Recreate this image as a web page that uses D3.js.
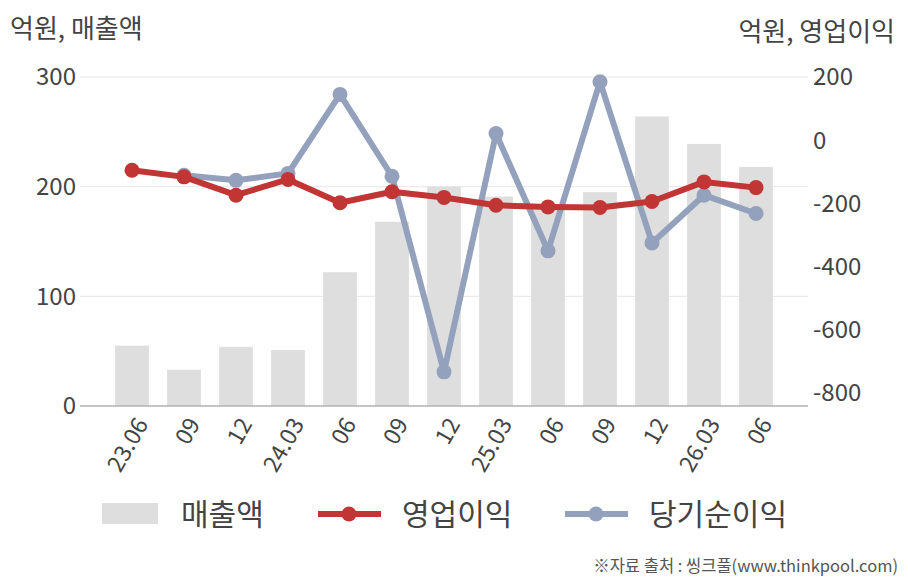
<!DOCTYPE html>
<html>
<head>
<meta charset="utf-8">
<script src="https://cdn.jsdelivr.net/npm/d3@7"></script>
<style>
  body { margin: 0; background: #fff; }
  text { font-family: "Noto Sans CJK KR", "Noto Sans", sans-serif; }
</style>
</head>
<body>
<svg width="908" height="580"></svg>
<script>
// 분기 라벨
const quarters = ["23.06", "09", "12", "24.03", "06", "09", "12", "25.03", "06", "09", "12", "26.03", "06"];
// 매출액 (억원, 왼쪽 축)
const sales = [55, 33, 54, 51, 122, 168, 200, 191, 184, 195, 264, 239, 218];
// 영업이익 (억원, 오른쪽 축)
const opProfit = [-95, -116, -174, -124, -198, -163, -181, -206, -211, -213, -194, -132, -150];
// 당기순이익 (억원, 오른쪽 축) - 첫 분기는 없음
const netProfit = [null, -111, -127, -105, 145, -114, -733, 21, -350, 185, -325, -174, -232];

const leftTicks = [0, 100, 200, 300];
const rightTicks = [200, 0, -200, -400, -600, -800];

const svg = d3.select("svg");
const textColor = "#444";

const plotLeft = 80, plotRight = 808, plotTop = 77, plotBottom = 406;

const x = d3.scaleBand()
    .domain(d3.range(quarters.length))
    .range([106, 782])
    .paddingInner(0.35)
    .paddingOuter(0.175);

const yL = d3.scaleLinear().domain([0, 300]).range([plotBottom, plotTop]);
const yR = d3.scaleLinear().domain([-841, 200]).range([plotBottom, plotTop]);

const cx = i => x(i) + x.bandwidth() / 2;

// 격자선
svg.append("g").selectAll("line")
    .data(leftTicks.filter(d => d > 0))
    .join("line")
    .attr("x1", plotLeft).attr("x2", plotRight)
    .attr("y1", d => yL(d)).attr("y2", d => yL(d))
    .attr("stroke", "#e6e6e6").attr("stroke-width", 1);

// 막대
svg.append("g").selectAll("rect")
    .data(sales)
    .join("rect")
    .attr("x", (d, i) => x(i))
    .attr("y", d => yL(d))
    .attr("width", x.bandwidth())
    .attr("height", d => plotBottom - yL(d))
    .attr("fill", "#dedede");

// 아래 기준선
svg.append("line")
    .attr("x1", plotLeft).attr("x2", plotRight)
    .attr("y1", plotBottom).attr("y2", plotBottom)
    .attr("stroke", "#b0b0b0").attr("stroke-width", 1.5);

// 선 그리기
function drawSeries(values, color) {
    const line = d3.line()
        .defined(d => d != null)
        .x((d, i) => cx(i))
        .y(d => yR(d));
    svg.append("path")
        .attr("d", line(values))
        .attr("fill", "none")
        .attr("stroke", color)
        .attr("stroke-width", 6)
        .attr("stroke-linejoin", "round");
    svg.append("g").selectAll("circle")
        .data(values.map((v, i) => ({ v, i })).filter(d => d.v != null))
        .join("circle")
        .attr("cx", d => cx(d.i))
        .attr("cy", d => yR(d.v))
        .attr("r", 7.5)
        .attr("fill", color);
}
drawSeries(netProfit, "#93a1bc");
drawSeries(opProfit, "#c23535");

// 왼쪽 축 라벨
svg.append("g").selectAll("text")
    .data(leftTicks)
    .join("text")
    .attr("x", 76)
    .attr("y", d => yL(d))
    .attr("dy", "0.35em")
    .attr("text-anchor", "end")
    .attr("font-size", 24)
    .attr("fill", textColor)
    .text(d => d);

// 오른쪽 축 라벨
svg.append("g").selectAll("text")
    .data(rightTicks)
    .join("text")
    .attr("x", 813)
    .attr("y", d => yR(d))
    .attr("dy", "0.35em")
    .attr("text-anchor", "start")
    .attr("font-size", 24)
    .attr("fill", textColor)
    .text(d => d);

// x축 라벨
svg.append("g").selectAll("text")
    .data(quarters)
    .join("text")
    .attr("transform", (d, i) => `translate(${cx(i) + 10}, 420) rotate(-60)`)
    .attr("text-anchor", "end")
    .attr("dy", "0.35em")
    .attr("font-size", 23)
    .attr("fill", textColor)
    .text(d => d);

// 축 제목
svg.append("text")
    .attr("x", 10).attr("y", 38)
    .attr("font-size", 26)
    .attr("fill", textColor)
    .text("억원, 매출액");
svg.append("text")
    .attr("x", 895).attr("y", 41)
    .attr("text-anchor", "end")
    .attr("font-size", 26)
    .attr("fill", textColor)
    .text("억원, 영업이익");

// 범례
const legend = svg.append("g");
legend.append("rect")
    .attr("x", 102).attr("y", 503).attr("width", 56).attr("height", 21)
    .attr("fill", "#dedede");
legend.append("text")
    .attr("x", 181).attr("y", 514).attr("dy", "0.35em")
    .attr("font-size", 30).attr("fill", textColor)
    .text("매출액");

const lineItems = [
    { x0: 318, label: "영업이익", color: "#c23535" },
    { x0: 565, label: "당기순이익", color: "#93a1bc" }
];
lineItems.forEach(item => {
    legend.append("line")
        .attr("x1", item.x0).attr("x2", item.x0 + 63)
        .attr("y1", 514).attr("y2", 514)
        .attr("stroke", item.color).attr("stroke-width", 6);
    legend.append("circle")
        .attr("cx", item.x0 + 31).attr("cy", 514).attr("r", 7.5)
        .attr("fill", item.color);
    legend.append("text")
        .attr("x", item.x0 + 84).attr("y", 514).attr("dy", "0.35em")
        .attr("font-size", 30).attr("fill", textColor)
        .text(item.label);
});

// 출처
svg.append("text")
    .attr("x", 898).attr("y", 572)
    .attr("text-anchor", "end")
    .attr("font-size", 16.5)
    .attr("fill", "#555")
    .text("※자료 출처 : 씽크풀(www.thinkpool.com)");
</script>
</body>
</html>
